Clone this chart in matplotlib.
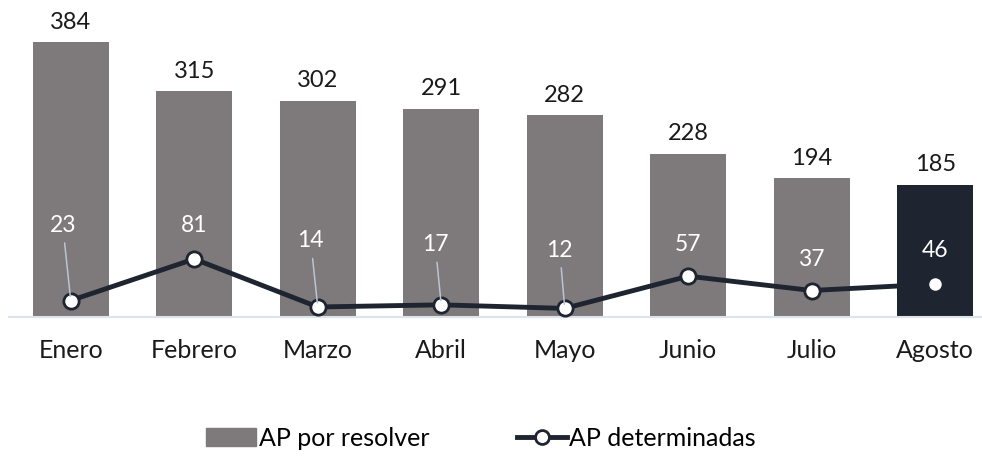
import numpy as np
import matplotlib.pyplot as plt
from matplotlib.patches import Patch
from matplotlib.lines import Line2D

plt.rcParams['font.family'] = ['Lato', 'DejaVu Sans']

meses = ["Enero", "Febrero", "Marzo", "Abril", "Mayo", "Junio", "Julio", "Agosto"]
por_resolver = [384, 315, 302, 291, 282, 228, 194, 185]
determinadas = [23, 81, 14, 17, 12, 57, 37, 46]

# label offsets (pixels) for the line values, tuned by eye
lbl_dx = [-8, 0, -7, -6, -5, 0, 0, 0]
lbl_dy = [75, 34, 66, 60, 58, 32, 31, 34]
leader = [True, False, True, True, True, False, False, False]

gris = "#7e797a"
oscuro = "#1e2530"

fig = plt.figure(figsize=(9.82, 4.58), dpi=100)
ax = fig.add_axes([9 / 982, 141 / 458, 973 / 982, 317 / 458])

x = np.arange(len(meses))
colores = [gris] * (len(meses) - 1) + [oscuro]
bars = ax.bar(x, por_resolver, width=0.615, color=colores, zorder=1)

for xi, v in zip(x, por_resolver):
    ax.annotate(str(v), (xi, v), xytext=(0, 20), textcoords="offset pixels",
                ha="center", va="center", fontsize=17, color="#1a1a1a")

ax.plot(x, determinadas, color=oscuro, lw=3.5, marker="o", ms=11,
        mfc="white", mec=oscuro, mew=2, zorder=3)

for xi, v, dx, dy, ld in zip(x, determinadas, lbl_dx, lbl_dy, leader):
    props = dict(arrowstyle="-", color="#b9c5d6", lw=1.1, shrinkA=3, shrinkB=3) if ld else None
    ax.annotate(str(v), (xi, v), xytext=(dx, dy), textcoords="offset pixels",
                ha="center", va="center", fontsize=16.5, color="white",
                arrowprops=props, zorder=4)

ax.set_xlim(-0.5, 7.5 - 15 / 123.6)
ax.set_ylim(0, 317 / 0.716)
ax.set_xticks(x)
ax.set_xticklabels(meses, fontsize=18, color="#1a1a1a")
ax.tick_params(axis="x", length=0, pad=16)
ax.set_yticks([])
for s in ["top", "right", "left"]:
    ax.spines[s].set_visible(False)
ax.spines["bottom"].set_color("#dde3ea")
ax.spines["bottom"].set_linewidth(1.5)

handles = [Patch(color=gris, label="AP por resolver"),
           Line2D([0], [0], color=oscuro, lw=3.5, marker="o", ms=10, mfc="white",
                  mec=oscuro, mew=2, label="AP determinadas")]
fig.legend(handles=handles, loc="center", bbox_to_anchor=(0.49, 20 / 458), ncol=2,
           frameon=False, fontsize=18, handlelength=2.0, handletextpad=0.1,
           columnspacing=3.5)

fig.savefig("out.png", dpi=100)
